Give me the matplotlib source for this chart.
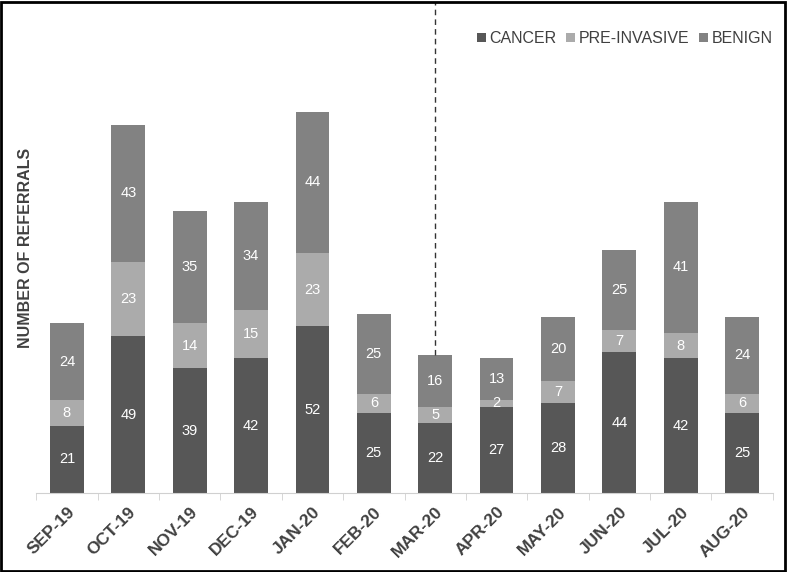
import numpy as np
import matplotlib
matplotlib.use("Agg")
import matplotlib.pyplot as plt
from matplotlib.patches import Rectangle

months = ["SEP-19", "OCT-19", "NOV-19", "DEC-19", "JAN-20", "FEB-20",
          "MAR-20", "APR-20", "MAY-20", "JUN-20", "JUL-20", "AUG-20"]
cancer = [21, 49, 39, 42, 52, 25, 22, 27, 28, 44, 42, 25]
pre_invasive = [8, 23, 14, 15, 23, 6, 5, 2, 7, 7, 8, 6]
benign = [24, 43, 35, 34, 44, 25, 16, 13, 20, 25, 41, 24]

series = [("CANCER", cancer, "#575757"),
          ("PRE-INVASIVE", pre_invasive, "#ababab"),
          ("BENIGN", benign, "#828282")]

plt.rcParams["font.family"] = ["Liberation Sans", "DejaVu Sans"]

fig = plt.figure(figsize=(7.87, 5.72), dpi=100)
ax = fig.add_axes([0.046, 0.138, 0.936, 0.857])

x = np.arange(len(months))
bottom = np.zeros(len(months))
for name, vals, col in series:
    vals = np.array(vals)
    bars = ax.bar(x, vals, 0.55, bottom=bottom, color=col, label=name)
    for xi, b, v in zip(x, bottom, vals):
        ax.text(xi, b + v / 2, str(v), ha="center", va="center",
                color="white", fontsize=10.5)
    bottom = bottom + vals

# dashed marker above MAR-20
ax.vlines(6, bottom[6], 200, colors="#333333", linestyles=(0, (4, 3)), lw=1)

ax.set_xlim(-0.5, len(months) - 0.5)
ax.set_ylim(0, 153)
ax.set_yticks([])
for s in ["top", "right", "left"]:
    ax.spines[s].set_visible(False)
ax.spines["bottom"].set_color("#d0d0d0")

ax.set_xticks(x)
ax.set_xticklabels(months, rotation=45, ha="right", rotation_mode="anchor",
                   fontsize=12.5, fontweight="bold", color="#404040")
ax.tick_params(axis="x", length=0, pad=8)
ax.set_xticks(np.arange(-0.5, len(months)), minor=True)
ax.tick_params(axis="x", which="minor", length=5, color="#d0d0d0")

ax.set_ylabel("NUMBER OF REFERRALS", fontsize=11.5, fontweight="bold",
              color="#404040", labelpad=2)

ax.legend(loc="center right", bbox_to_anchor=(1.02, 0.927), ncol=3, frameon=False,
          fontsize=11.5, handlelength=0.55, handleheight=0.55, handletextpad=0.25,
          columnspacing=0.6, labelcolor="#404040")

fig.patches.append(Rectangle((0.001, 0.001), 0.997, 0.996, transform=fig.transFigure,
                             fill=False, edgecolor="black", lw=2))

fig.savefig("out.png", dpi=100)
